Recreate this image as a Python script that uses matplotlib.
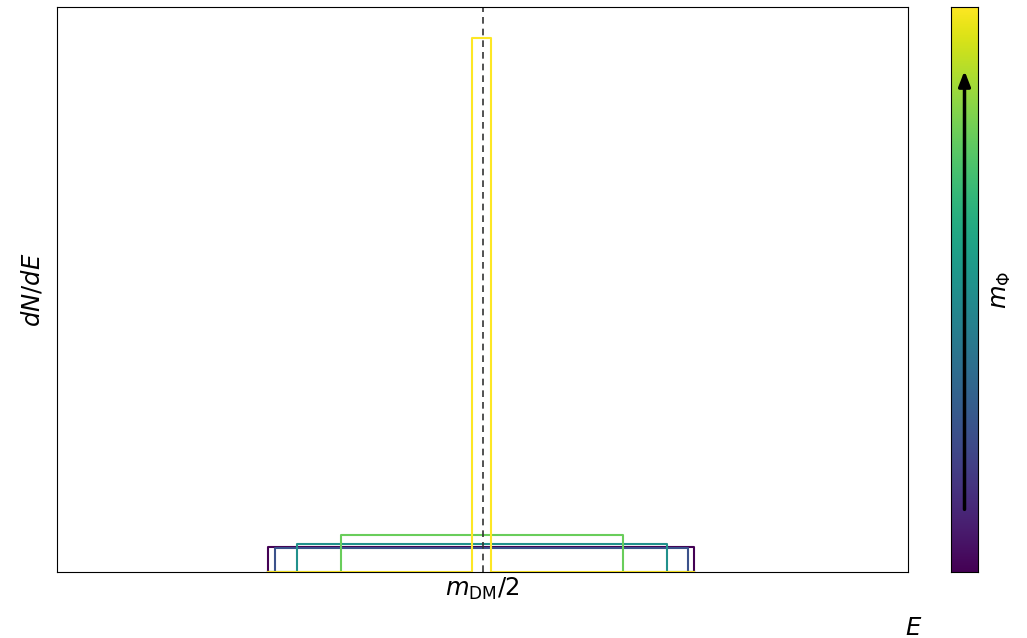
import matplotlib
matplotlib.use("Agg")
import matplotlib.pyplot as plt
import numpy as np

# Box spectra: left edge, right edge, height (units: E in m_DM, ylim 0..1)
cores = [0.0, 0.25, 0.5, 0.77, 1.0]          # posicao na escala viridis
esquerda = [0.248, 0.256, 0.282, 0.334, 0.488]
direita = [0.749, 0.742, 0.717, 0.665, 0.510]
altura = [0.044, 0.043, 0.050, 0.066, 0.945]
centro = 0.5

fig = plt.figure(figsize=(10.27, 6.38), dpi=100)
ax = fig.add_axes([0.0555, 0.1034, 0.8287, 0.8856])
cax = fig.add_axes([0.926, 0.1034, 0.0263, 0.8856])

cmap = plt.get_cmap("viridis")
xmin, xmax = min(esquerda), max(direita)

# cada espectro desenhado na grade comum (zero fora da caixa)
for c, l, r, h in zip(cores, esquerda, direita, altura):
    xs = [xmin, l, l, r, r, xmax]
    ys = [0, 0, h, h, 0, 0]
    ax.plot(xs, ys, color=cmap(c), lw=1.5)

ax.axvline(centro, color="#333333", ls=(0, (4, 3)), lw=1.2)

ax.set_xlim(0, 1)
ax.set_ylim(0, 1)
ax.set_xticks([centro])
ax.set_xticklabels([r"$m_{\rm DM}/2$"], fontsize=17.5)
ax.tick_params(axis="x", length=0, pad=3)
ax.set_yticks([])
ax.set_ylabel(r"$dN/dE$", fontsize=17.5, labelpad=9)
ax.set_xlabel(r"$E$", fontsize=17.5)
ax.xaxis.set_label_coords(1.006, -0.077)

# barra de cores
grad = np.linspace(0, 1, 256).reshape(-1, 1)
cax.imshow(grad, aspect="auto", cmap=cmap, origin="lower", extent=[0, 1, 0, 1])
cax.set_xticks([])
cax.set_yticks([])
cax.annotate("", xy=(0.5, 0.892), xytext=(0.5, 0.106),
             xycoords="axes fraction",
             arrowprops=dict(arrowstyle="-|>,head_width=0.35,head_length=0.9",
                             color="black", lw=2.5))
cax.yaxis.set_label_position("right")
cax.set_ylabel(r"$m_\Phi$", fontsize=17.5, labelpad=8)

fig.savefig("out.png", dpi=100)
